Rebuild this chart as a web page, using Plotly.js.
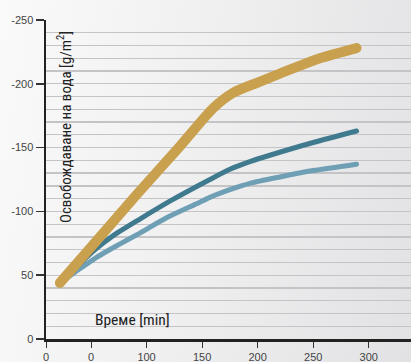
<!DOCTYPE html>
<html>
<head>
<meta charset="utf-8">
<script src="https://cdn.plot.ly/plotly-3.0.1.min.js"></script>
<style>
html,body{margin:0;padding:0;}
body{width:411px;height:362px;background:linear-gradient(100deg,#fafafa 0%,#f0f0f1 45%,#e2e2e4 100%);}
#chart{width:411px;height:362px;}
path.js-line{stroke-linecap:round;}
</style>
</head>
<body>
<div id="chart"></div>
<script>
// Time [min] and water release [g/m2]
const goldX = [22, 56, 91, 130, 160, 178, 200, 220, 256, 289];
const goldY = [44, 78, 113, 151, 181, 193, 201, 208, 220, 228];
const darkX = [24, 40, 55, 70, 94, 121, 157, 175, 193, 211, 250, 289];
const darkY = [45, 59, 71, 81, 94, 108, 125, 133, 139, 144, 154, 163];
const lightX = [24, 40, 55, 75, 94, 118, 145, 157, 175, 193, 220, 250, 289];
const lightY = [45, 55, 64, 74, 83, 95, 106, 111, 117, 122, 127, 132, 137];

const yTickVals = [0, 50, 100, 150, 200, 250];
const yTickText = ['0', '50', '-100', '-150', '-200', '-250'];
const xTickVals = [9.5, 50, 100, 150, 200, 250, 300];
const xTickText = ['0', '0', '100', '150', '200', '250', '300'];

const traces = [
  {x: lightX, y: lightY, mode: 'lines', line: {color: '#6e9fb5', width: 5, shape: 'spline', smoothing: 0.7}, hoverinfo: 'none'},
  {x: darkX, y: darkY, mode: 'lines', line: {color: '#3f7a8f', width: 5, shape: 'spline', smoothing: 0.7}, hoverinfo: 'none'},
  {x: goldX, y: goldY, mode: 'lines', line: {color: '#c9a04d', width: 10, shape: 'spline', smoothing: 0.7}, hoverinfo: 'none'}
];

const tickFont = {family: 'Liberation Sans, Arial, sans-serif', size: 11, color: '#444'};
const titleFont = {family: 'Liberation Sans Narrow, Arial Narrow, Roboto Condensed, DejaVu Sans Condensed, sans-serif', size: 15, color: '#222'};

const layout = {
  width: 411, height: 362,
  margin: {l: 46, r: 0, t: 20, b: 23},
  paper_bgcolor: 'rgba(0,0,0,0)',
  plot_bgcolor: 'rgba(0,0,0,0)',
  showlegend: false,
  xaxis: {
    range: [9.5, 338], tickvals: xTickVals, ticktext: xTickText,
    showgrid: false, zeroline: false,
    showline: true, linecolor: '#222', linewidth: 2.5,
    ticks: 'outside', ticklen: 6, tickwidth: 1, tickcolor: '#333',
    tickfont: tickFont, fixedrange: true
  },
  yaxis: {
    range: [0, 250], tickvals: yTickVals, ticktext: yTickText,
    showgrid: true, gridcolor: '#c4c4c6', gridwidth: 1.3, zeroline: false,
    minor: {dtick: 10, showgrid: true, gridcolor: '#c4c4c6', gridwidth: 1.3, ticks: ''},
    showline: true, linecolor: '#222', linewidth: 2.5,
    ticks: 'outside', ticklen: 8, tickwidth: 1.5, tickcolor: '#333',
    tickfont: tickFont, fixedrange: true
  },
  annotations: [
    {text: 'Освобождаване на вода [g/m<sup>2</sup>]', xref: 'paper', yref: 'paper', x: 0.05, y: 0.665,
     textangle: -90, showarrow: false, xanchor: 'center', yanchor: 'middle', font: titleFont},
    {text: 'Време [min]', xref: 'paper', yref: 'paper', x: 0.238, y: 0.06,
     showarrow: false, xanchor: 'center', yanchor: 'middle', font: Object.assign({}, titleFont, {size: 15.5})}
  ]
};

Plotly.newPlot('chart', traces, layout, {staticPlot: true, displayModeBar: false});
</script>
</body>
</html>
